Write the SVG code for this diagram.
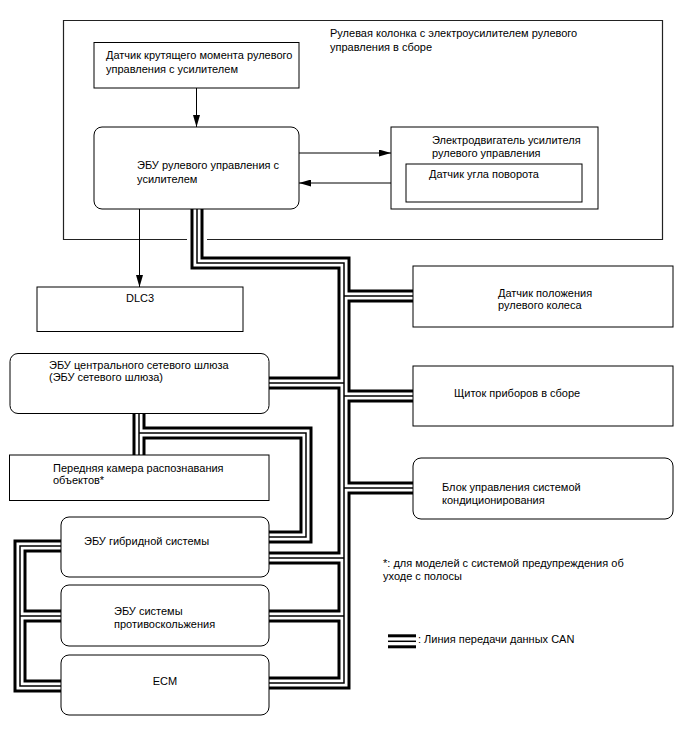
<svg xmlns="http://www.w3.org/2000/svg" xmlns:xlink="http://www.w3.org/1999/xlink" width="688" height="755" viewBox="0 0 688 755">
<style>
text{font-family:"Liberation Sans",Arial,sans-serif;font-size:11px;fill:#000}
.box{fill:#fff;stroke:#000;stroke-width:1}
.frame{fill:none;stroke:#222;stroke-width:1.2}
.line{fill:none;stroke:#000;stroke-width:1}
.bk{fill:none;stroke:#000;stroke-width:13;stroke-linejoin:miter}
.wh{fill:none;stroke:#fff;stroke-width:7;stroke-linejoin:miter}
.th{fill:none;stroke:#000;stroke-width:1.5;stroke-linejoin:miter}
</style>
<defs>
<marker id="ah" markerWidth="12" markerHeight="7" refX="12" refY="3.5" orient="auto" markerUnits="userSpaceOnUse">
<path d="M0,0 L12,3.5 L0,7 Z" fill="#000"/>
</marker>
<path id="b1" d="M197,205 V263 H344 V683 H265"/>
<path id="b1a" d="M344,296 H417"/>
<path id="b1b" d="M344,396 H417"/>
<path id="b1c" d="M344,488 H417"/>
<path id="b1d" d="M344,383 H265"/>
<path id="b1e" d="M344,558 H265"/>
<path id="b1f" d="M344,616 H265"/>
<path id="b2" d="M139,410 V459"/>
<path id="b2a" d="M139,433 H306 V537 H265"/>
<path id="b3" d="M65,546 H20 V686 H65"/>
<path id="b3a" d="M20,616 H65"/>
<path id="lg" d="M388,641.3 H416"/>
</defs>

<g id="steering-column-assy">
<path class="frame" d="M187,239.5 H63.5 V20.5 H662.5 V239.5 H207"/>
<text x="330" y="37">Рулевая колонка с электроусилителем рулевого</text>
<text x="330" y="51">управления в сборе</text>
</g>

<g id="connectors">
<line class="line" x1="196.5" y1="88" x2="196.5" y2="127" marker-end="url(#ah)"/>
<line class="line" x1="299" y1="153" x2="391" y2="153" marker-end="url(#ah)"/>
<line class="line" x1="406" y1="183" x2="299" y2="183" marker-end="url(#ah)"/>
<line class="line" x1="139.5" y1="209" x2="139.5" y2="287" marker-end="url(#ah)"/>
<g id="can-bus">
<use xlink:href="#b1" class="bk"/><use xlink:href="#b1a" class="bk"/><use xlink:href="#b1b" class="bk"/><use xlink:href="#b1c" class="bk"/><use xlink:href="#b1d" class="bk"/><use xlink:href="#b1e" class="bk"/><use xlink:href="#b1f" class="bk"/><use xlink:href="#b2" class="bk"/><use xlink:href="#b2a" class="bk"/><use xlink:href="#b3" class="bk"/><use xlink:href="#b3a" class="bk"/>
<use xlink:href="#b1" class="wh"/><use xlink:href="#b1a" class="wh"/><use xlink:href="#b1b" class="wh"/><use xlink:href="#b1c" class="wh"/><use xlink:href="#b1d" class="wh"/><use xlink:href="#b1e" class="wh"/><use xlink:href="#b1f" class="wh"/><use xlink:href="#b2" class="wh"/><use xlink:href="#b2a" class="wh"/><use xlink:href="#b3" class="wh"/><use xlink:href="#b3a" class="wh"/>
<use xlink:href="#b1" class="th"/><use xlink:href="#b1a" class="th"/><use xlink:href="#b1b" class="th"/><use xlink:href="#b1c" class="th"/><use xlink:href="#b1d" class="th"/><use xlink:href="#b1e" class="th"/><use xlink:href="#b1f" class="th"/><use xlink:href="#b2" class="th"/><use xlink:href="#b2a" class="th"/><use xlink:href="#b3" class="th"/><use xlink:href="#b3a" class="th"/>
</g>
</g>

<g id="torque-sensor">
<rect class="box" x="94" y="42.5" width="205" height="45.5"/>
<text x="106" y="59">Датчик крутящего момента рулевого</text>
<text x="106" y="73">управления с усилителем</text>
</g>

<g id="eps-ecu">
<rect class="box" x="94" y="127" width="205" height="82" rx="8"/>
<text x="137" y="169">ЭБУ рулевого управления с</text>
<text x="137" y="183">усилителем</text>
</g>

<g id="eps-motor">
<rect class="box" x="391" y="127" width="207" height="82"/>
<text x="432" y="144">Электродвигатель усилителя</text>
<text x="432" y="157">рулевого управления</text>
</g>

<g id="angle-sensor">
<rect class="box" x="406" y="164" width="176" height="38"/>
<text x="429" y="178">Датчик угла поворота</text>
</g>

<g id="dlc3">
<rect class="box" x="37" y="287" width="206" height="44.5"/>
<text x="140" y="302" text-anchor="middle">DLC3</text>
</g>

<g id="gateway-ecu">
<rect class="box" x="10" y="353.5" width="259" height="60" rx="8"/>
<text x="49" y="369">ЭБУ центрального сетевого шлюза</text>
<text x="49" y="381">(ЭБУ сетевого шлюза)</text>
</g>

<g id="front-camera">
<rect class="box" x="9.5" y="455" width="259.5" height="45.5"/>
<text x="53" y="472">Передняя камера распознавания</text>
<text x="53" y="484">объектов*</text>
</g>

<g id="hybrid-ecu">
<rect class="box" x="61" y="517" width="208" height="60" rx="8"/>
<text x="84" y="545">ЭБУ гибридной системы</text>
</g>

<g id="skid-ecu">
<rect class="box" x="61" y="585" width="208" height="61" rx="8"/>
<text x="114" y="615">ЭБУ системы</text>
<text x="114" y="628">противоскольжения</text>
</g>

<g id="ecm">
<rect class="box" x="61" y="655" width="208" height="60" rx="8"/>
<text x="165" y="685" text-anchor="middle">ECM</text>
</g>

<g id="steering-wheel-sensor">
<rect class="box" x="413" y="266" width="260" height="61"/>
<text x="498" y="297">Датчик положения</text>
<text x="498" y="309">рулевого колеса</text>
</g>

<g id="combination-meter">
<rect class="box" x="413" y="366" width="260" height="60"/>
<text x="454" y="397">Щиток приборов в сборе</text>
</g>

<g id="ac-ecu">
<rect class="box" x="413" y="458" width="260" height="61" rx="8"/>
<text x="442" y="491">Блок управления системой</text>
<text x="442" y="504">кондиционирования</text>
</g>

<g id="notes">
<text x="383" y="567">*: для моделей с системой предупреждения об</text>
<text x="383" y="580">уходе с полосы</text>
<use xlink:href="#lg" class="bk" style="stroke-width:14"/>
<use xlink:href="#lg" class="wh" style="stroke-width:8"/>
<use xlink:href="#lg" class="th"/>
<text x="418" y="643">: Линия передачи данных CAN</text>
</g>
</svg>
